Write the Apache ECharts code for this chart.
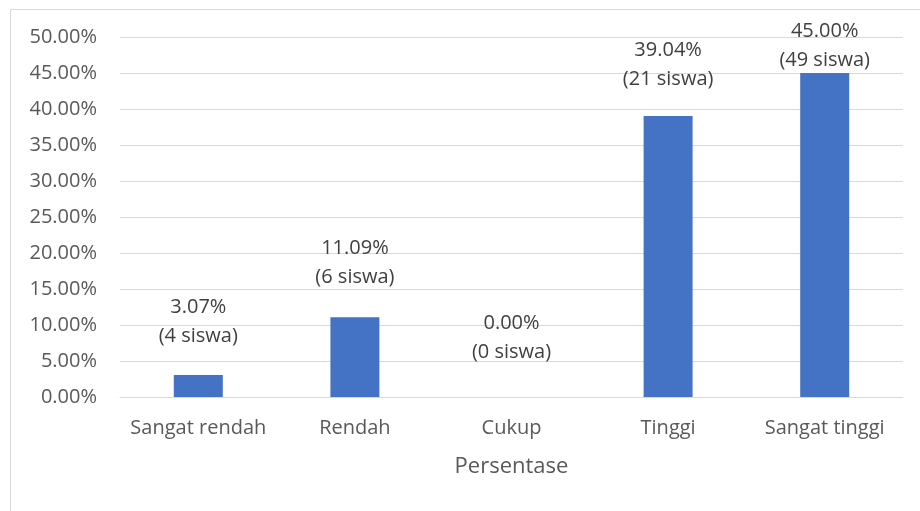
<!DOCTYPE html>
<html>
<head>
<meta charset="utf-8">
<script src="https://cdn.jsdelivr.net/npm/echarts@6/dist/echarts.min.js"></script>
<style>
html,body{margin:0;padding:0;background:#fff;}
#chart{width:920px;height:511px;}
</style>
</head>
<body>
<div id="chart"></div>
<script>
const categories = ['Sangat rendah', 'Rendah', 'Cukup', 'Tinggi', 'Sangat tinggi'];
const percentValues = [3.07, 11.09, 0.00, 39.04, 45.00];
const studentCounts = [4, 6, 0, 21, 49];
const axisTitle = 'Persentase';

const FONT = '"Open Sans", "Noto Sans", sans-serif';
const labelGap = [24, 25, 30, 22, -2];

const chart = echarts.init(document.getElementById('chart'), null, {renderer: 'canvas'});

const seriesData = percentValues.map((v, i) => ({
  value: v,
  label: { distance: labelGap[i] }
}));

chart.setOption({
  animation: false,
  backgroundColor: '#ffffff',
  graphic: [{
    type: 'rect',
    left: 8, top: 7,
    shape: { width: 1000, height: 1000 },
    style: { fill: 'none', stroke: '#d9d9d9', lineWidth: 1 },
    silent: true
  }],
  grid: { left: 120, right: 17, top: 37, bottom: 114, containLabel: false },
  xAxis: {
    type: 'category',
    data: categories,
    axisTick: { show: false },
    axisLine: { show: true, lineStyle: { color: '#d9d9d9', width: 1 } },
    axisLabel: { interval: 0, hideOverlap: false, color: '#595959', fontSize: 20, fontFamily: FONT, margin: 21, lineHeight: 20 },
    name: axisTitle,
    nameLocation: 'middle',
    nameGap: 59,
    nameTextStyle: { color: '#595959', fontSize: 22, fontFamily: FONT, lineHeight: 22 }
  },
  yAxis: {
    type: 'value',
    min: 0, max: 50, interval: 5,
    axisLine: { show: false },
    axisTick: { show: false },
    splitLine: { lineStyle: { color: '#d9d9d9', width: 1 } },
    axisLabel: {
      color: '#595959', fontSize: 20, fontFamily: FONT, margin: 23,
      formatter: v => v.toFixed(2) + '%'
    }
  },
  series: [{
    type: 'bar',
    data: seriesData,
    barWidth: 49,
    itemStyle: { color: '#4472C4' },
    label: {
      show: true,
      position: 'top',
      color: '#404040',
      fontSize: 20,
      fontFamily: FONT,
      lineHeight: 29,
      formatter: p => percentValues[p.dataIndex].toFixed(2) + '%\n(' + studentCounts[p.dataIndex] + ' siswa)'
    }
  }]
});
</script>
</body>
</html>
